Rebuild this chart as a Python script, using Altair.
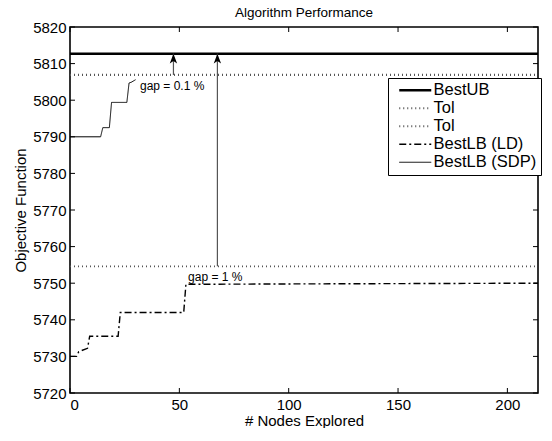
import altair as alt
import pandas as pd

FONT = "Liberation Sans"
W, H = 468, 366
X_MAX = 214

# values
best_ub = 5812.7
tol_small = 5806.9   # 0.1 % gap
tol_large = 5754.6   # 1 % gap

sdp_x = [0, 14, 15, 18, 19, 26, 27, 28, 30]
sdp_y = [5790, 5790, 5792.5, 5792.5, 5799.4, 5799.4, 5804.7, 5804.9, 5805.6]

ld_x = [0, 3, 4, 8, 9, 22, 23, 52, 53, 100, 214]
ld_y = [5730, 5730, 5731.3, 5732.2, 5735.5, 5735.5, 5742, 5742, 5749.7, 5749.8, 5750]

series_names = ["BestUB", "Tol", "Tol2", "BestLB (LD)", "BestLB (SDP)"]
series_dash = [[1, 0], [1, 3], [1, 3], [7, 3, 2, 3], [1, 0]]
series_width = [2.6, 1, 1, 1.3, 1.4]
series_color = ["black", "#555555", "#555555", "black", "black"]

arrow_x = [47.3, 67.4]
arrow_from = [tol_small, tol_large]

gap_text = ["gap = 0.1 %", "gap = 1 %"]
gap_x = [32, 54]
gap_y = [5804.0, 5751.8]

x_ticks = [0, 50, 100, 150, 200]
y_ticks = list(range(5720, 5821, 10))

rows = []
for n, (xs, ys) in {
    "BestUB": ([0, X_MAX], [best_ub, best_ub]),
    "Tol": ([0, X_MAX], [tol_small, tol_small]),
    "Tol2": ([0, X_MAX], [tol_large, tol_large]),
    "BestLB (LD)": (ld_x, ld_y),
    "BestLB (SDP)": (sdp_x, sdp_y),
}.items():
    for i, (a, b) in enumerate(zip(xs, ys)):
        rows.append({"series": n, "x": a, "y": b, "o": i})
df = pd.DataFrame(rows)

xscale = alt.Scale(domain=[0, X_MAX], nice=False, zero=False)
yscale = alt.Scale(domain=[5720, 5820], nice=False, zero=False)

xaxis = alt.Axis(values=x_ticks, title="# Nodes Explored", ticks=False, domain=False,
                 grid=False, labelPadding=4, titlePadding=1, labelFontSize=15,
                 titleFontSize=15, labelFont=FONT, titleFont=FONT, format="d",
                 labelOverlap=False,
                 titleFontWeight="normal", labelColor="black", titleColor="black")
yaxis = alt.Axis(values=y_ticks, title="Objective Function", ticks=False, domain=False,
                 grid=False, labelPadding=4, titlePadding=4, labelFontSize=15,
                 titleFontSize=15, labelFont=FONT, titleFont=FONT, format="d",
                 labelOverlap=False,
                 titleFontWeight="normal", labelColor="black", titleColor="black")


def X(f):
    return alt.X(f, scale=xscale, axis=xaxis)


def Y(f):
    return alt.Y(f, scale=yscale, axis=yaxis)


LBL = "datum.label == 'Tol2' ? 'Tol' : datum.label"

lines = alt.Chart(df).mark_line().encode(
    x=X("x:Q"),
    y=Y("y:Q"),
    order="o:Q",
    strokeDash=alt.StrokeDash("series:N", scale=alt.Scale(domain=series_names, range=series_dash),
                              legend=alt.Legend(title=None, labelExpr=LBL)),
    strokeWidth=alt.StrokeWidth("series:N", scale=alt.Scale(domain=series_names, range=series_width),
                                legend=alt.Legend(title=None, labelExpr=LBL)),
    color=alt.Color("series:N", scale=alt.Scale(domain=series_names, range=series_color),
                    legend=alt.Legend(title=None, labelExpr=LBL)),
)

arrows_df = pd.DataFrame({"x": arrow_x, "y0": arrow_from, "y1": [best_ub] * 2})
shafts = alt.Chart(arrows_df).mark_rule(color="#555555", strokeWidth=1.2).encode(
    x=X("x:Q"), y=Y("y0:Q"), y2="y1:Q")
heads = alt.Chart(arrows_df).mark_point(
    shape="M0,0 L0.6,1.6 L0,1.2 L-0.6,1.6 Z", filled=True, color="black",
    opacity=1, size=150).encode(x=X("x:Q"), y=Y("y1:Q"))

text_df = pd.DataFrame({"t": gap_text, "x": gap_x, "y": gap_y})
texts = alt.Chart(text_df).mark_text(align="left", baseline="middle", fontSize=12,
                                     font=FONT, color="black").encode(
    x=X("x:Q"), y=Y("y:Q"), text="t:N")

yt = pd.DataFrame({"v": y_ticks})
xt = pd.DataFrame({"v": x_ticks})
ytick_l = alt.Chart(yt).mark_rule(color="black", strokeWidth=1).encode(
    y=Y("v:Q"), x=alt.value(0), x2=alt.value(5))
ytick_r = alt.Chart(yt).mark_rule(color="black", strokeWidth=1).encode(
    y=Y("v:Q"), x=alt.value(W - 5), x2=alt.value(W))
xtick_b = alt.Chart(xt).mark_rule(color="black", strokeWidth=1).encode(
    x=X("v:Q"), y=alt.value(H - 5), y2=alt.value(H))
xtick_t = alt.Chart(xt).mark_rule(color="black", strokeWidth=1).encode(
    x=X("v:Q"), y=alt.value(0), y2=alt.value(5))

chart = alt.layer(
    lines, ytick_l, ytick_r, xtick_b, xtick_t, shafts, heads, texts
).properties(
    width=W, height=H,
    title=alt.TitleParams("Algorithm Performance", fontSize=13.5, font=FONT,
                          fontWeight="normal", color="black", offset=1),
    padding={"left": 5, "top": -3, "right": 0, "bottom": 0},
).configure_view(
    stroke="black", strokeWidth=1.6
).configure_legend(
    orient="none", legendX=318, legendY=51, strokeColor="black", fillColor="white",
    padding=4, symbolType="M-3.2,0H3.2", symbolSize=100, symbolOffset=15,
    labelFontSize=16.5, labelFont=FONT,
    labelColor="black", rowPadding=1, labelOffset=10,
)

chart.save("out.html", embed_options={"renderer": "svg", "actions": False})
